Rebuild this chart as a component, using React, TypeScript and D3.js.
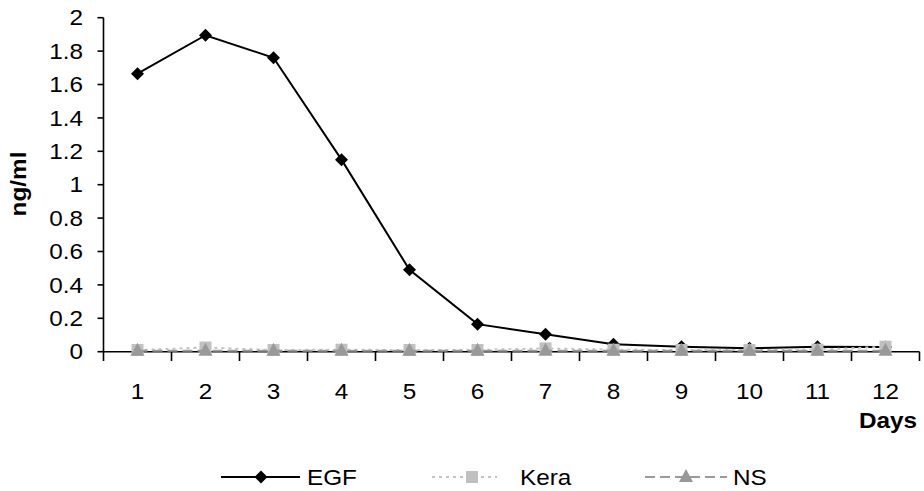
import React from "react";
import * as d3 from "d3";

const days = ["1", "2", "3", "4", "5", "6", "7", "8", "9", "10", "11", "12"];
const egf = [1.665, 1.895, 1.76, 1.15, 0.49, 0.165, 0.105, 0.045, 0.03, 0.02, 0.03, 0.028];
const kera = [0.01, 0.025, 0.01, 0.012, 0.01, 0.01, 0.02, 0.012, 0.01, 0.01, 0.012, 0.03];
const ns = [0.005, 0.005, 0.005, 0.005, 0.005, 0.005, 0.005, 0.005, 0.005, 0.005, 0.005, 0.005];
const yTicks = [0, 0.2, 0.4, 0.6, 0.8, 1, 1.2, 1.4, 1.6, 1.8, 2];

const W = 924, H = 491;
const FONT = "'Liberation Sans', Arial, sans-serif";
const SX = 1.08;

function T({ x, y, anchor = "start", size = 22.5, weight = "normal", rotate = 0, children }: any) {
  return (
    <g transform={`translate(${x},${y}) rotate(${rotate}) scale(${SX},1)`}>
      <text x={0} y={0} textAnchor={anchor} dominantBaseline="central" fontFamily={FONT} fontSize={size} fontWeight={weight} fill="#000">
        {children}
      </text>
    </g>
  );
}

const diamond = (cx: number, cy: number, r = 6.5) => `M${cx},${cy - r}L${cx + r},${cy}L${cx},${cy + r}L${cx - r},${cy}Z`;
const square = (cx: number, cy: number, r = 6) => `M${cx - r},${cy - r}h${2 * r}v${2 * r}h${-2 * r}Z`;
const tri = (cx: number, cy: number, r = 7) => `M${cx},${cy - r}L${cx + r},${cy + r * 0.85}L${cx - r},${cy + r * 0.85}Z`;

export default function App() {
  const x = d3.scaleBand<string>().domain(days).range([103.5, 919.5]).padding(0);
  const y = d3.scaleLinear().domain([0, 2]).range([351.7, 17.7]);
  const cx = (d: string) => (x(d) as number) + x.bandwidth() / 2;
  const line = d3.line<number>().x((_, i) => cx(days[i])).y((v) => y(v));
  const boundaries = days.map((d) => x(d) as number).concat([x.range()[1]]);

  const LY = 477;
  return (
    <svg width={W} height={H} style={{ position: "absolute", left: 0, top: 0, display: "block", background: "#fff" }}>
      <line x1={103.5} x2={103.5} y1={17.7} y2={352} stroke="#000" strokeWidth={1.6} />
      {yTicks.map((t) => (
        <g key={t}>
          <line x1={97.5} x2={103.5} y1={y(t)} y2={y(t)} stroke="#000" strokeWidth={1.6} />
          <T x={83} y={y(t)} anchor="end">{String(t)}</T>
        </g>
      ))}
      <line x1={103.5} x2={919.5} y1={351.7} y2={351.7} stroke="#000" strokeWidth={1.6} />
      {boundaries.map((b, i) => (
        <line key={i} x1={b} x2={b} y1={351.7} y2={361} stroke="#000" strokeWidth={1.6} />
      ))}
      {days.map((d) => (
        <T key={d} x={cx(d)} y={391} anchor="middle">{d}</T>
      ))}
      <T x={888} y={420} anchor="middle" weight="bold">Days</T>
      <T x={18} y={184} anchor="middle" weight="bold" rotate={-90}>ng/ml</T>

      <path d={line(egf) || ""} fill="none" stroke="#000" strokeWidth={2} />
      {egf.map((v, i) => (
        <path key={i} d={diamond(cx(days[i]), y(v))} fill="#000" />
      ))}
      <path d={line(kera) || ""} fill="none" stroke="#c4c4c4" strokeWidth={2} strokeDasharray="3,4" />
      {kera.map((v, i) => (
        <path key={i} d={square(cx(days[i]), y(v))} fill="#c0c0c0" />
      ))}
      <path d={line(ns) || ""} fill="none" stroke="#9a9a9a" strokeWidth={2} strokeDasharray="10,5" />
      {ns.map((v, i) => (
        <path key={i} d={tri(cx(days[i]), y(v) - 1)} fill="#999" />
      ))}

      <line x1={221} x2={300} y1={LY} y2={LY} stroke="#000" strokeWidth={2} />
      <path d={diamond(261, LY)} fill="#000" />
      <T x={307} y={LY} anchor="start">EGF</T>

      <line x1={432} x2={497} y1={LY} y2={LY} stroke="#c4c4c4" strokeWidth={2} strokeDasharray="3,4" />
      <path d={square(472, LY)} fill="#c0c0c0" />
      <T x={520} y={LY} anchor="start">Kera</T>

      <line x1={645} x2={727} y1={LY} y2={LY} stroke="#9a9a9a" strokeWidth={2} strokeDasharray="10,5" />
      <path d={tri(686, LY - 1)} fill="#999" />
      <T x={733} y={LY} anchor="start">NS</T>
    </svg>
  );
}
